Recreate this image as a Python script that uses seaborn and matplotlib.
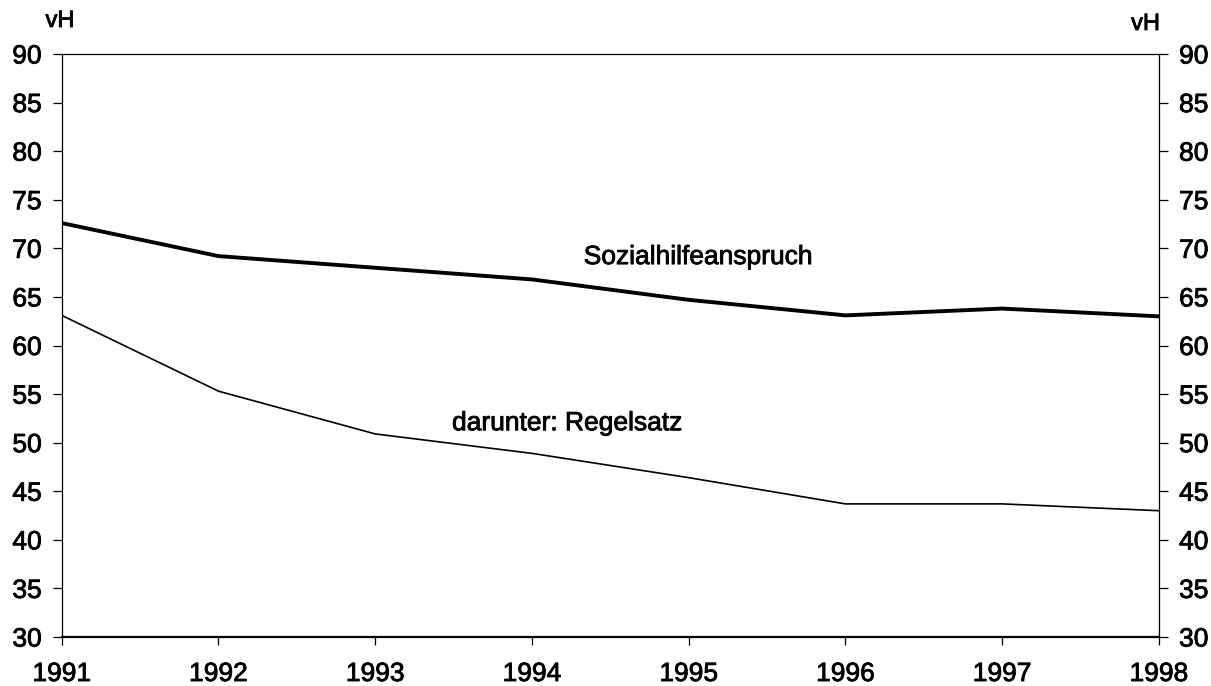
"""Sozialhilfeanspruch und Regelsatz in vH, 1991-1998."""
import matplotlib
matplotlib.use("Agg")
import matplotlib.patheffects as pe
import matplotlib.pyplot as plt
import pandas as pd
import seaborn as sns

years = [1991, 1992, 1993, 1994, 1995, 1996, 1997, 1998]
anspruch = [72.6, 69.2, 68.0, 66.8, 64.7, 63.1, 63.8, 63.0]
regelsatz = [63.1, 55.3, 50.9, 48.9, 46.4, 43.7, 43.7, 43.0]
y_ticks = list(range(30, 95, 5))

df = pd.DataFrame({"jahr": years, "anspruch": anspruch, "regelsatz": regelsatz})

sns.set_style("ticks")
plt.rcParams["font.family"] = ["Liberation Sans", "DejaVu Sans"]
plt.rcParams["text.color"] = "black"
plt.rcParams["xtick.color"] = "black"
plt.rcParams["ytick.color"] = "black"

# leicht verstaerkte Schrift, wie im gescannten Original
heavy = [pe.withStroke(linewidth=0.6, foreground="black")]

fig = plt.figure(figsize=(12.11, 6.86), dpi=100)
ax = fig.add_axes([0.051, 0.0714, 0.906, 0.8499])

sns.lineplot(data=df, x="jahr", y="anspruch", ax=ax, color="black", linewidth=2.8)
sns.lineplot(data=df, x="jahr", y="regelsatz", ax=ax, color="black", linewidth=1.2)

ax.set_xlim(years[0], years[-1])
ax.set_ylim(30, 90)
ax.set_xticks(years)
ax.set_yticks(y_ticks)
ax.set_xlabel("")
ax.set_ylabel("")

for side in ["left", "right", "top", "bottom"]:
    ax.spines[side].set_visible(True)
    ax.spines[side].set_color("black")
    ax.spines[side].set_linewidth(0.9)
ax.spines["bottom"].set_linewidth(1.6)

ax.tick_params(axis="y", which="both", left=True, right=True, labelleft=True, labelright=True,
               direction="out", length=6.5, width=0.9, pad=8, labelsize=19)
ax.tick_params(axis="x", direction="out", length=6, width=0.9, pad=12, labelsize=19)
for lbl in ax.get_xticklabels() + ax.get_yticklabels():
    lbl.set_path_effects(heavy)
for t in ax.yaxis.get_major_ticks():
    t.label2.set_path_effects(heavy)

ax.text(1994.33, 69.1, "Sozialhilfeanspruch", fontsize=19, va="center", ha="left",
        path_effects=heavy)
ax.text(1993.49, 52.0, "darunter: Regelsatz", fontsize=19, va="center", ha="left",
        path_effects=heavy)

fig.text(60 / 1211, 1 - 21 / 686, "vH", fontsize=17, ha="center", va="center",
         path_effects=heavy)
fig.text(1160 / 1211, 1 - 24 / 686, "vH", fontsize=17, ha="right", va="center",
         path_effects=heavy)

fig.savefig("out.png", dpi=100)
